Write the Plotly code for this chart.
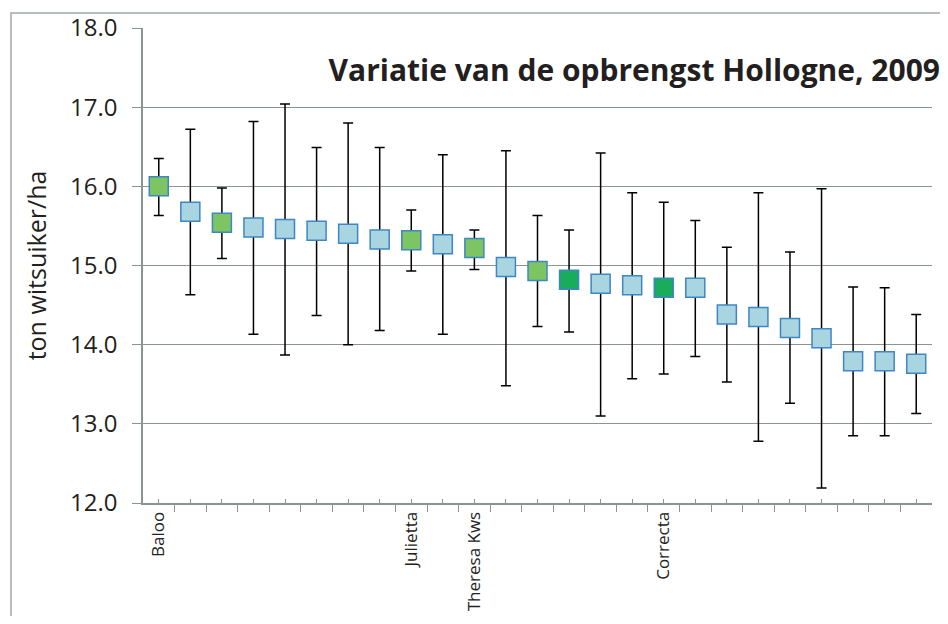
import plotly.graph_objects as go

# ---- data ----
labels = ["Baloo", "", "", "", "", "", "", "", "Julietta", "", "Theresa Kws", "", "", "",
          "", "", "Correcta", "", "", "", "", "", "", "", ""]
mean = [16.00, 15.68, 15.54, 15.48, 15.46, 15.44, 15.40, 15.33, 15.32, 15.27, 15.22, 14.98, 14.93,
        14.82, 14.77, 14.75, 14.72, 14.72, 14.38, 14.35, 14.21, 14.08, 13.79, 13.79, 13.76]
upper = [16.35, 16.72, 15.98, 16.82, 17.04, 16.49, 16.80, 16.49, 15.70, 16.40, 15.45, 16.45, 15.63,
         15.45, 16.42, 15.92, 15.80, 15.57, 15.23, 15.92, 15.17, 15.97, 14.73, 14.72, 14.38]
lower = [15.63, 14.63, 15.09, 14.13, 13.87, 14.37, 14.00, 14.18, 14.93, 14.13, 14.95, 13.48, 14.23,
         14.16, 13.10, 13.57, 13.63, 13.85, 13.53, 12.78, 13.26, 12.19, 12.85, 12.85, 13.13]
group = ["green", "ref", "green", "ref", "ref", "ref", "ref", "ref", "green", "ref", "green", "ref", "green",
         "dark", "ref", "ref", "dark", "ref", "ref", "ref", "ref", "ref", "ref", "ref", "ref"]
y_ticks = [12, 13, 14, 15, 16, 17, 18]

colour_map = {"ref": "#a8d5e0", "green": "#7dc462", "dark": "#19ad5b"}
x = list(range(1, len(mean) + 1))

fig = go.Figure()
fig.add_trace(go.Scatter(
    x=x, y=mean, mode="markers",
    marker=dict(symbol="square", size=19, color=[colour_map[g] for g in group],
                line=dict(color="#3f86c4", width=1.5)),
    error_y=dict(type="data", symmetric=False,
                 array=[u - m for u, m in zip(upper, mean)],
                 arrayminus=[m - l for m, l in zip(mean, lower)],
                 color="black", thickness=1.5, width=5),
    showlegend=False, hoverinfo="skip",
))

# page offset of the plot div (default body margin); figure sized to fit the window
OFF = 8
W, H = 948 - 2 * OFF, 624 - 2 * OFF
# desired plot area in page pixels
PX0, PX1, PY0, PY1 = 143, 932, 28, 503
L, T = PX0 - OFF, PY0 - OFF
pw, ph = PX1 - PX0, PY1 - PY0
R = W - L - pw
B = H - T - ph

def px(xp):
    return (xp - PX0) / pw

def py(yp):
    return (PY1 - yp) / ph

fig.add_shape(type="rect", xref="paper", yref="paper",
              x0=px(11), x1=px(970), y0=py(650), y1=py(13),
              line=dict(color="#a3a6a6", width=1.5), fillcolor="rgba(0,0,0,0)", layer="below")

fig.update_layout(
    width=W, height=H,
    margin=dict(l=L, r=R, t=T, b=B, autoexpand=False),
    paper_bgcolor="white", plot_bgcolor="white",
    font=dict(family="Open Sans", color="#222222"),
    title=dict(text="<b>Variatie van de opbrengst Hollogne, 2009</b>",
               font=dict(family="Open Sans", size=30, color="#231f20"),
               xref="container", x=1, xanchor="right",
               yref="container", y=1 - (70 - OFF) / H, yanchor="middle"),
    xaxis=dict(range=[0.5, len(mean) + 0.5], tickvals=x, ticktext=labels,
               tickangle=-90, tickfont=dict(size=17, color="#222222"), automargin=False,
               ticks="inside", ticklen=4, tickcolor="#8c9393", tickwidth=1,
               minor=dict(tickvals=[i + 0.5 for i in range(0, len(mean) + 1)],
                          ticks="outside", ticklen=7, tickcolor="#8c9393", tickwidth=1.2),
               showline=True, linecolor="#8c9393", linewidth=2,
               showgrid=False, zeroline=False, fixedrange=True),
    yaxis=dict(range=[12, 18], tickvals=y_ticks, tickformat=".1f", automargin=False,
               tickfont=dict(size=24, color="#231f20"),
               ticks="outside", ticklen=9, tickcolor="#8c9393", ticklabelstandoff=10,
               showline=True, linecolor="#8c9393", linewidth=1.5,
               showgrid=True, gridcolor="#8c9393", gridwidth=1.2, zeroline=False,
               title=dict(text="ton witsuiker/ha", font=dict(size=25, color="#231f20"), standoff=16)),
)

fig.write_html("out.html")
